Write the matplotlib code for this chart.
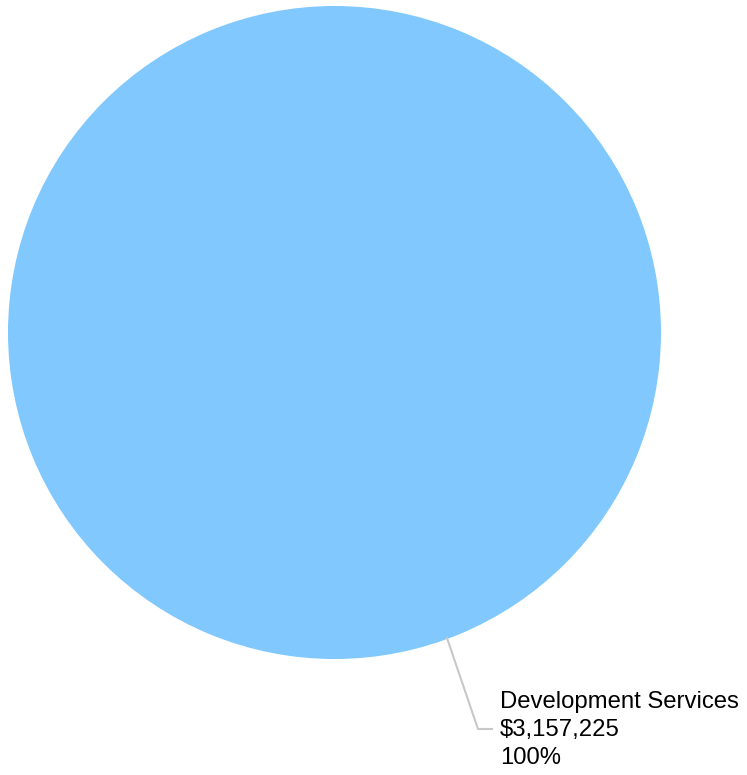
import matplotlib
matplotlib.use("Agg")
import matplotlib.pyplot as plt

categories = ["Development Services"]
values = [3157225]
colors = ["#80c8fd"]

W, H = 747, 775
fig = plt.figure(figsize=(W / 100, H / 100), dpi=100)
ax = fig.add_axes([0, 0, 1, 1])
ax.set_xlim(0, W)
ax.set_ylim(H, 0)
ax.set_aspect("equal")
ax.axis("off")

cx, cy, r = 334.5, 332.5, 326.5
ax.pie(values, colors=colors, center=(cx, cy), radius=r, startangle=90,
       counterclock=False, wedgeprops=dict(linewidth=0), frame=True)
ax.set_xlim(0, W)
ax.set_ylim(H, 0)
ax.axis("off")

total = sum(values)
for name, v in zip(categories, values):
    pct = v / total * 100
    ax.plot([447, 478, 492], [638, 729, 729], color="#c8c8c8", lw=1.5,
            solid_joinstyle="miter", zorder=1)
    label = f"{name}\n${v:,.0f}\n{pct:.0f}%"
    ax.text(500, 730, label, ha="left", va="center", fontsize=17.2,
            family="Liberation Sans", color="#000000", linespacing=1.36)

fig.savefig("out.png", dpi=100)
